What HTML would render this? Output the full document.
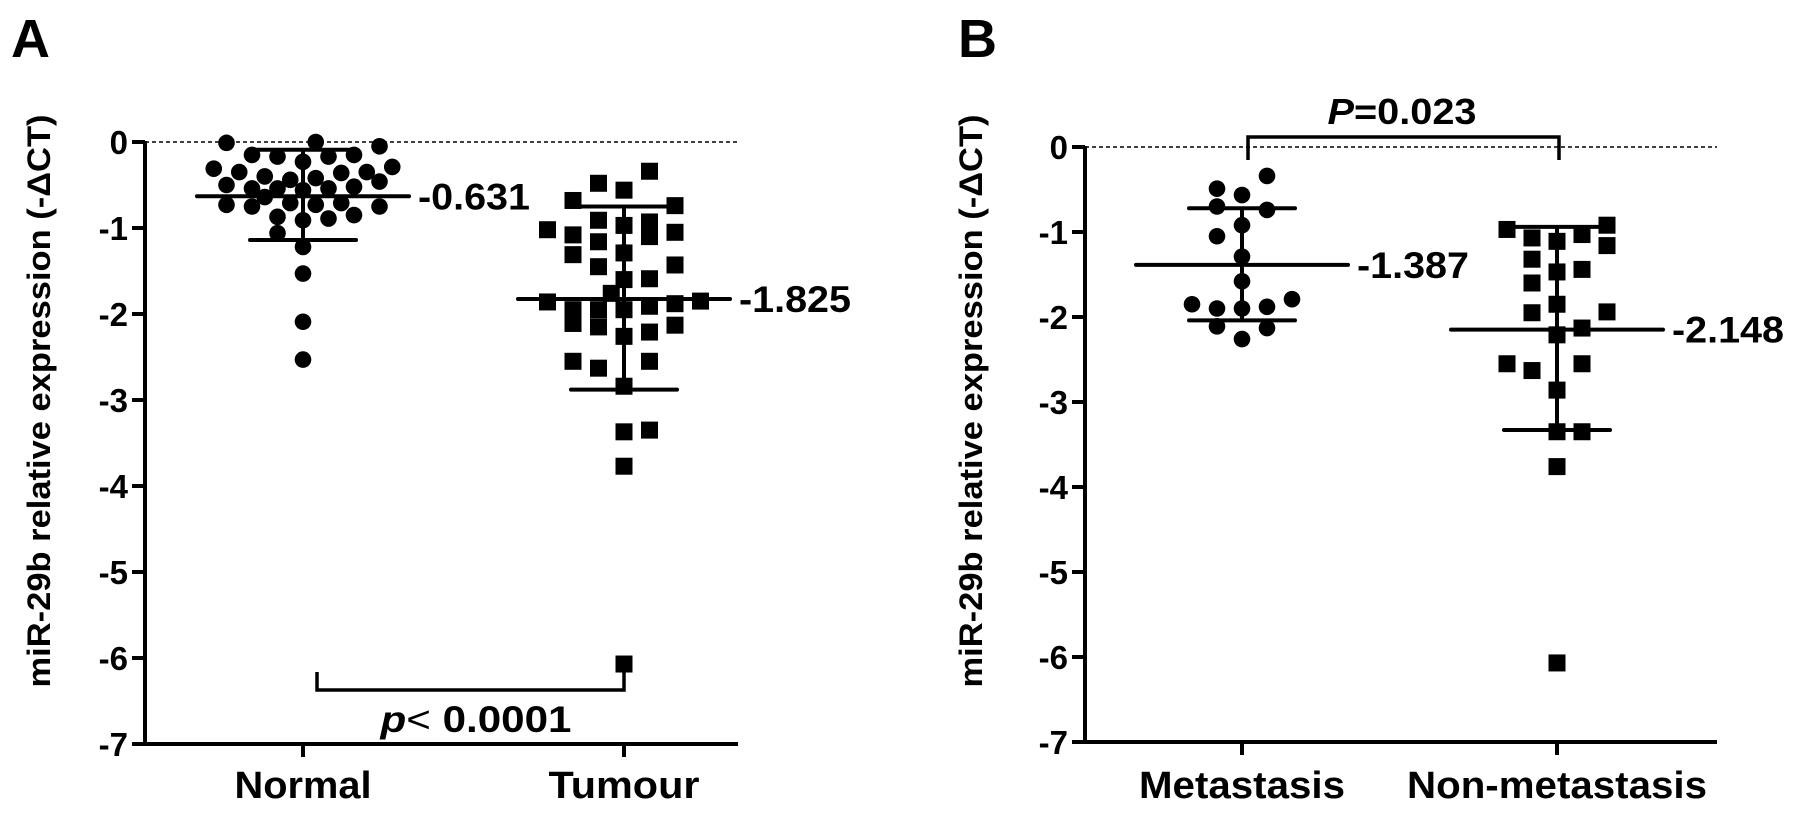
<!DOCTYPE html>
<html><head><meta charset="utf-8"><style>
html,body{margin:0;padding:0;background:#fff;}
svg{display:block;font-family:"Liberation Sans",Arial,sans-serif;font-weight:bold;}
</style></head><body>
<svg id="chart" width="1795" height="814" viewBox="0 0 1795 814" xmlns="http://www.w3.org/2000/svg"></svg>
<script>
// ---- Panel A data ----
const aCategories = ["Normal", "Tumour"];
const aTicks = [0, -1, -2, -3, -4, -5, -6, -7];
const normalValues = [-0.01,0.0,-0.05,-0.15,-0.17,-0.23,-0.17,-0.15,-0.31,-0.35,-0.40,-0.44,-0.42,-0.36,-0.35,-0.29,-0.50,-0.54,-0.54,-0.56,-0.54,-0.52,-0.46,-0.73,-0.75,-0.64,-0.71,-0.73,-0.71,-0.75,-0.87,-0.91,-0.89,-0.85,-1.06,-1.22,-1.53,-2.09,-2.53];
const normalJitter = [-3,0.5,3,-2,-1,0,1,2,-3.5,-2.5,-1.5,-0.5,0.5,1.5,2.5,3.5,-3,-2,-1,0,1,2,3,-3,-2,-1.5,-0.5,0.5,1.5,3,-1,0,1,2,-1,0,0,0,0];
const tumourValues = [-0.56,-0.97,-1.29,-1.60,-1.95,-2.26,-2.84,-3.37,-3.77,-6.07,-0.34,-0.93,-1.10,-1.59,-1.91,-2.21,-2.55,-3.35,-0.74,-1.05,-1.43,-1.88,-2.13,-1.85,-0.48,-0.91,-1.16,-1.45,-1.95,-2.15,-2.63,-0.68,-1.08,-1.31,-1.95,-2.11,-2.55,-1.02,-1.86,-1.76];
const tumourJitter = [0,0,0,0,0,0,0,0,0,0,1,1,1,1,1,1,1,1,2,2,2,2,2,3,-1,-1,-1,-1,-1,-1,-1,-2,-2,-2,-2,-2,-2,-3,-3,-0.5];
const aMeans = [-0.631, -1.825];
const aSDlow = [-1.14, -2.88];
const aSDhigh = [-0.09, -0.75];
const aMeanLabels = ["-0.631", "-1.825"];
// ---- Panel B data ----
const bCategories = ["Metastasis", "Non-metastasis"];
const bTicks = [0, -1, -2, -3, -4, -5, -6, -7];
const metaValues = [-0.34,-0.49,-0.565,-0.70,-0.74,-0.92,-1.05,-1.29,-1.58,-1.85,-1.90,-1.90,-1.88,-1.79,-2.11,-2.13,-2.26];
const metaJitter = [1,-1,0,-1,1,0,-1,0,0,-2,-1,0,1,2,-1,1,0];
const nonMetaValues = [-0.97,-1.07,-1.11,-1.03,-0.92,-1.16,-1.32,-1.47,-1.44,-1.60,-1.85,-1.95,-1.94,-2.21,-2.13,-2.55,-2.63,-2.55,-2.86,-3.35,-3.35,-3.76,-6.07];
const nonMetaJitter = [-2,-1,0,1,2,2,-1,0,1,-1,0,-1,2,0,1,-2,-1,1,0,0,1,0,0];
const bMeans = [-1.387, -2.148];
const bSDlow = [-2.04, -3.33];
const bSDhigh = [-0.72, -0.94];
const bMeanLabels = ["-1.387", "-2.148"];

const NS = "http://www.w3.org/2000/svg";
const svg = document.getElementById("chart");
function mk(tag, attrs, parent) {
  const e = document.createElementNS(NS, tag);
  for (const k in attrs) e.setAttribute(k, attrs[k]);
  (parent || svg).appendChild(e);
  return e;
}

function panel(cfg) {
  const g = mk("g", {});
  
  
  const y = v => cfg.y0 + (-v) * cfg.unit;
  const x = i => cfg.cx[i];
  const zl = mk("line", {x1: cfg.ax, x2: cfg.axEnd, y1: y(0), y2: y(0), stroke: "#000", "stroke-width": 1.5, "stroke-dasharray": "4,3"}, g);
  
  
  const ya = mk("line", {x1: cfg.ax, x2: cfg.ax, y1: y(0) - 1, y2: y(-7) + 2, stroke: "#000", "stroke-width": 4}, g);
  
  
  const xa = mk("line", {x1: cfg.ax - 13, x2: cfg.axEnd, y1: y(-7), y2: y(-7), stroke: "#000", "stroke-width": 4}, g);
  
  
  cfg.ticks.forEach(t => {
    const tl = mk("line", {x1: cfg.ax - 13, x2: cfg.ax, y1: y(t), y2: y(t), stroke: "#000", "stroke-width": 4}, g);
    
    
    const tx = mk("text", {x: cfg.ax - 17, y: y(t) + 12, "text-anchor": "end", "font-size": 33}, g);
    
    
    tx.textContent = String(t);
  });
  cfg.cats.forEach((c, i) => {
    const tl = mk("line", {x1: x(i), x2: x(i), y1: y(-7), y2: y(-7) + 13, stroke: "#000", "stroke-width": 4}, g);
    
    
    const tx = mk("text", {x: x(i), y: 798, "text-anchor": "middle", "font-size": 38, textLength: cfg.catLen[i], lengthAdjust: "spacingAndGlyphs"}, g);
    
    
    tx.textContent = c;
  });
  const yt = mk("text", {x: 0, y: 0, "text-anchor": "middle", "font-size": 32, textLength: 573, lengthAdjust: "spacingAndGlyphs", transform: `translate(${cfg.titleX},401) rotate(-90)`}, g);
  
  
  yt.textContent = "miR-29b relative expression (-\u0394CT)";
  cfg.series.forEach((s, i) => {
    s.vals.forEach((v, j) => {
      const px = x(i) + s.jit[j] * cfg.step, py = y(v);
      let m;
      if (s.shape === "circle") m = mk("circle", {cx: px, cy: py, r: 8.3, fill: "#000"}, g);
      else m = mk("rect", {x: px - 8.5, y: py - 8.5, width: 17, height: 17, fill: "#000"}, g);
      
      
    });
  });
  cfg.cats.forEach((c, i) => {
    const eb = mk("line", {x1: x(i), x2: x(i), y1: y(cfg.hi[i]), y2: y(cfg.lo[i]), stroke: "#000", "stroke-width": 4}, g);
    
    
    [cfg.hi[i], cfg.lo[i]].forEach(v => {
      const cap = mk("line", {x1: x(i) - 53, x2: x(i) + 53, y1: y(v), y2: y(v), stroke: "#000", "stroke-width": 4, "stroke-linecap": "round"}, g);
      
      
    });
    const ml = mk("line", {x1: x(i) - 106, x2: x(i) + 106, y1: y(cfg.means[i]), y2: y(cfg.means[i]), stroke: "#000", "stroke-width": 4, "stroke-linecap": "round"}, g);
    
    
    const lt = mk("text", {x: x(i) + 115, y: y(cfg.means[i]) + 13, "font-size": 37, textLength: 112, lengthAdjust: "spacingAndGlyphs"}, g);
    
    
    lt.textContent = cfg.meanLabels[i];
  });
  const pl = mk("text", {x: cfg.letterX, y: 57, "font-size": 54}, g);
  
  
  pl.textContent = cfg.letter;
  return {g, y};
}

panel({name: "panel-a", ax: 145, axEnd: 738, y0: 142, unit: 86, cx: [303, 624], step: 25.5,
  ticks: aTicks, cats: aCategories, catLen: [137, 151], titleX: 50, letter: "A", letterX: 11,
  series: [{vals: normalValues, jit: normalJitter, shape: "circle"}, {vals: tumourValues, jit: tumourJitter, shape: "rect"}],
  means: aMeans, lo: aSDlow, hi: aSDhigh, meanLabels: aMeanLabels});
panel({name: "panel-b", ax: 1085, axEnd: 1717, y0: 147, unit: 85, cx: [1242, 1557], step: 25,
  ticks: bTicks, cats: bCategories, catLen: [206, 300], titleX: 982, letter: "B", letterX: 958,
  series: [{vals: metaValues, jit: metaJitter, shape: "circle"}, {vals: nonMetaValues, jit: nonMetaJitter, shape: "rect"}],
  means: bMeans, lo: bSDlow, hi: bSDhigh, meanLabels: bMeanLabels});

const br1 = mk("polyline", {points: "317,672 317,690 624,690 624,672", fill: "none", stroke: "#000", "stroke-width": 3.5});


const st1 = mk("text", {x: 476, y: 732, "text-anchor": "middle", "font-size": 37, textLength: 191, lengthAdjust: "spacingAndGlyphs"});


st1.innerHTML = '<tspan font-style="italic">p</tspan><tspan font-weight="normal">\u003c</tspan> 0.0001';
const br2 = mk("polyline", {points: "1248,160 1248,137 1559,137 1559,160", fill: "none", stroke: "#000", "stroke-width": 3.5});


const st2 = mk("text", {x: 1402, y: 124, "text-anchor": "middle", "font-size": 36, textLength: 149, lengthAdjust: "spacingAndGlyphs"});


st2.innerHTML = '<tspan font-style="italic">P</tspan>=0.023';
</script>
</body></html>
